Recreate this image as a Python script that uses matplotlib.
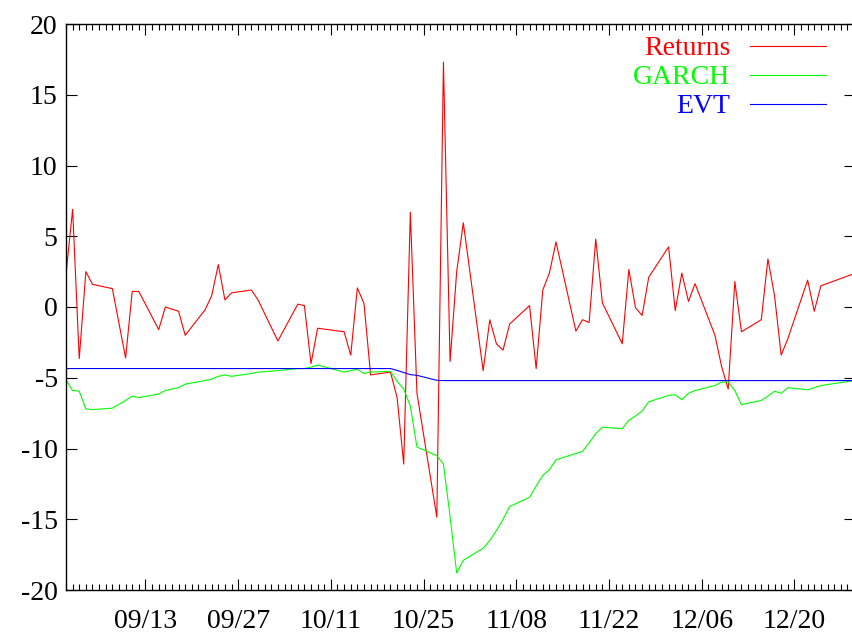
import matplotlib
matplotlib.use("Agg")
import matplotlib.pyplot as plt
import matplotlib.dates as mdates
import pandas as pd

# -----------------------------
# DATA
# -----------------------------
dates = [
    "2008-09-01", "2008-09-02", "2008-09-03", "2008-09-04", "2008-09-05",
    "2008-09-08", "2008-09-10", "2008-09-11", "2008-09-12",
    "2008-09-15", "2008-09-16", "2008-09-18", "2008-09-19",
    "2008-09-22", "2008-09-23", "2008-09-24", "2008-09-25", "2008-09-26",
    "2008-09-29", "2008-09-30", "2008-10-03",
    "2008-10-06", "2008-10-07", "2008-10-08", "2008-10-09",
    "2008-10-13", "2008-10-14", "2008-10-15", "2008-10-16", "2008-10-17",
    "2008-10-20", "2008-10-21", "2008-10-22", "2008-10-23", "2008-10-24",
    "2008-10-27", "2008-10-28", "2008-10-29", "2008-10-30", "2008-10-31",
    "2008-11-03", "2008-11-04", "2008-11-05", "2008-11-06", "2008-11-07",
    "2008-11-10", "2008-11-11", "2008-11-12", "2008-11-13", "2008-11-14",
    "2008-11-17", "2008-11-18", "2008-11-19", "2008-11-20", "2008-11-21",
    "2008-11-24", "2008-11-25", "2008-11-26", "2008-11-27", "2008-11-28",
    "2008-12-01", "2008-12-02", "2008-12-03", "2008-12-04", "2008-12-05",
    "2008-12-08", "2008-12-09", "2008-12-10", "2008-12-11", "2008-12-12",
    "2008-12-15", "2008-12-16", "2008-12-17", "2008-12-18", "2008-12-19",
    "2008-12-22", "2008-12-23", "2008-12-24",
    "2008-12-29",
]

returns = [
    2.3, 6.9, -3.65, 2.5, 1.6,
    1.3, -3.6, 1.1, 1.1,
    -1.6, 0.0, -0.3, -2.0,
    -0.2, 0.8, 3.0, 0.5, 1.0,
    1.2, 0.5, -2.4,
    0.2, 0.1, -4.0, -1.5,
    -1.75, -3.4, 1.35, 0.25, -4.8,
    -4.6, -6.4, -11.1, 6.7, -6.1,
    -14.85, 17.3, -3.85, 2.5, 5.95,
    -4.5, -0.9, -2.6, -3.05, -1.2,
    0.1, -4.35, 1.2, 2.4, 4.6,
    -1.7, -0.9, -1.1, 4.8, 0.3,
    -2.6, 2.65, -0.05, -0.6, 2.1,
    4.25, -0.25, 2.4, 0.4, 1.65,
    -2.0, -4.2, -5.8, 1.8, -1.75,
    -0.9, 3.4, 0.8, -3.4, -2.25,
    1.9, -0.3, 1.5,
    2.35,
]

garch = [
    -5.15, -5.9, -5.95, -7.2, -7.25,
    -7.15, -6.6, -6.3, -6.4,
    -6.15, -5.9, -5.7, -5.45,
    -5.2, -5.1, -4.9, -4.8, -4.9,
    -4.7, -4.6, -4.5,
    -4.35, -4.35, -4.25, -4.1,
    -4.6, -4.5, -4.4, -4.7, -4.6,
    -4.55, -5.25, -5.8, -7.0, -9.9,
    -10.5, -11.1, -14.8, -18.8, -17.9,
    -17.05, -16.5, -15.8, -15.0, -14.1,
    -13.45, -12.65, -11.9, -11.5, -10.8,
    -10.35, -10.2, -9.6, -8.95, -8.5,
    -8.6, -8.0, -7.7, -7.35, -6.7,
    -6.25, -6.2, -6.55, -6.1, -5.9,
    -5.55, -5.3, -5.3, -5.9, -6.9,
    -6.6, -6.3, -5.95, -6.1, -5.7,
    -5.85, -5.7, -5.55,
    -5.2,
]

evt = [
    -4.35, -4.35, -4.35, -4.35, -4.35,
    -4.35, -4.35, -4.35, -4.35,
    -4.35, -4.35, -4.35, -4.35,
    -4.35, -4.35, -4.35, -4.35, -4.35,
    -4.35, -4.35, -4.35,
    -4.35, -4.35, -4.35, -4.35,
    -4.35, -4.35, -4.35, -4.35, -4.35,
    -4.35, -4.48, -4.63, -4.78, -4.83,
    -5.18, -5.2, -5.2, -5.2, -5.2,
    -5.2, -5.2, -5.2, -5.2, -5.2,
    -5.2, -5.2, -5.2, -5.2, -5.2,
    -5.2, -5.2, -5.2, -5.2, -5.2,
    -5.2, -5.2, -5.2, -5.2, -5.2,
    -5.2, -5.2, -5.2, -5.2, -5.2,
    -5.2, -5.2, -5.2, -5.2, -5.2,
    -5.2, -5.2, -5.2, -5.2, -5.2,
    -5.2, -5.2, -5.2,
    -5.2,
]

tick_dates = ["2008-09-13", "2008-09-27", "2008-10-11", "2008-10-25",
              "2008-11-08", "2008-11-22", "2008-12-06", "2008-12-20"]

# -----------------------------
# PLOT
# -----------------------------
plt.rcParams["font.family"] = ["Liberation Serif", "DejaVu Serif"]
plt.rcParams["axes.unicode_minus"] = False

fig = plt.figure(figsize=(8.52, 6.37), dpi=100)
W, H = 852, 637
left, right, top, bottom = 66, 855, 24, 590
ax = fig.add_axes([left / W, 1 - bottom / H, (right - left) / W, (bottom - top) / H])

x = pd.to_datetime(dates)
ax.plot(x, returns, color="#ff0000", lw=0.8, label="Returns")
ax.plot(x, garch, color="#00ff00", lw=0.8, label="GARCH")
ax.plot(x, evt, color="#0000ff", lw=0.8, label="EVT")

start = pd.Timestamp("2008-09-01")
ax.set_xlim(start, start + pd.Timedelta(days=119.15))
ax.set_ylim(-20, 20)
ax.set_yticks(range(-20, 21, 5))

ax.set_xticks(pd.to_datetime(tick_dates))
ax.xaxis.set_major_formatter(mdates.DateFormatter("%m/%d"))
ax.xaxis.set_minor_locator(mdates.DayLocator())

ax.tick_params(which="both", direction="in", top=True, right=True,
               width=0.8, labelsize=20)
ax.tick_params(which="major", length=8)
ax.tick_params(which="minor", length=4)
ax.tick_params(axis="x", pad=14)
ax.tick_params(axis="y", pad=6)
for s in ax.spines.values():
    s.set_linewidth(1.0)

leg = ax.legend(loc="upper right", bbox_to_anchor=((826 - left) / (right - left), 0.979),
                frameon=False, markerfirst=False, fontsize=20,
                handlelength=2.75, handletextpad=0.7, labelspacing=0.13,
                borderpad=0, borderaxespad=0)
for txt, line in zip(leg.get_texts(), leg.get_lines()):
    txt.set_color(line.get_color())

plt.savefig("out.png", dpi=100)
plt.close()
